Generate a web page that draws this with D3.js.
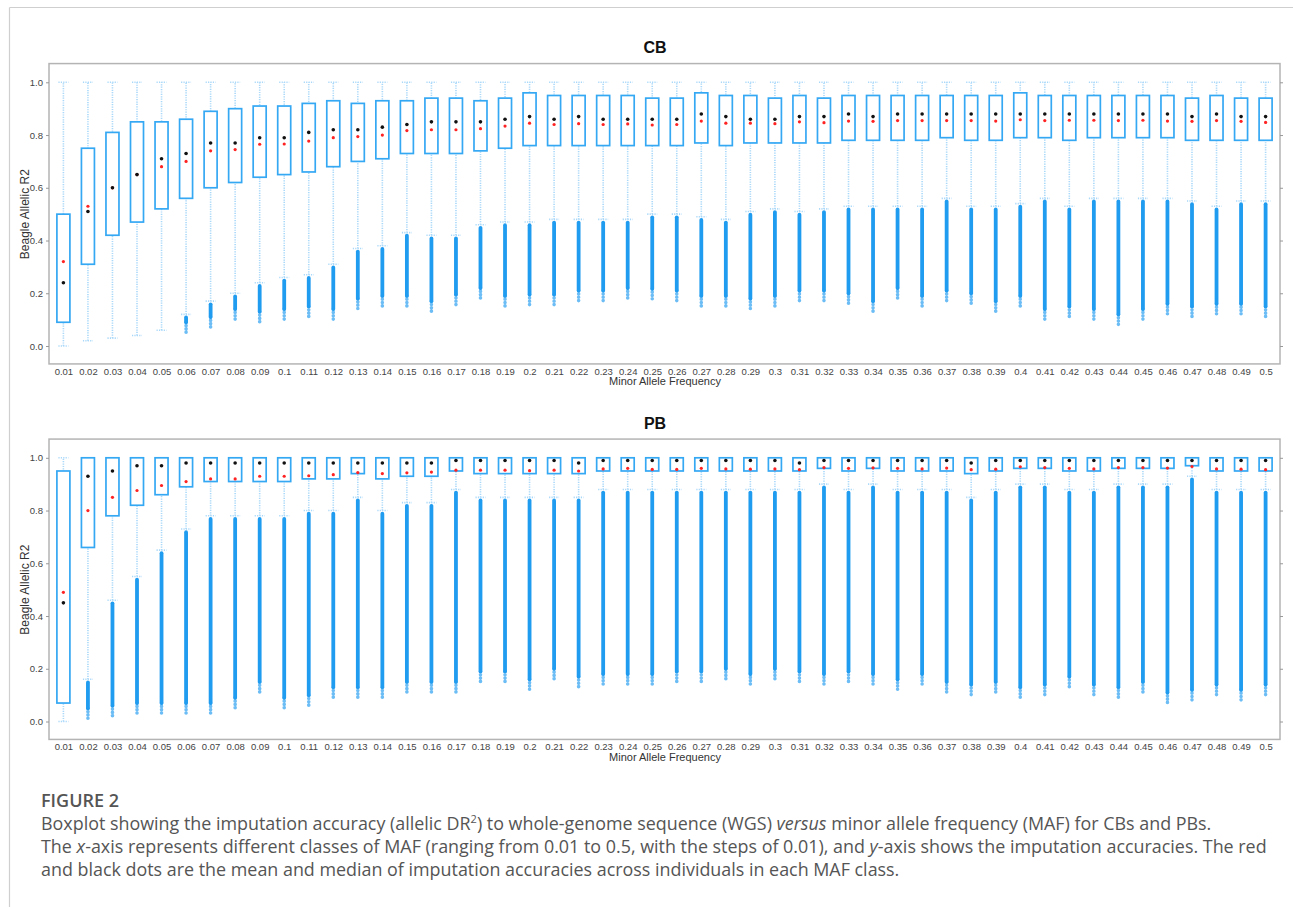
<!DOCTYPE html>
<html>
<head>
<meta charset="utf-8">
<script src="https://cdn.jsdelivr.net/npm/d3@7"></script>
<style>
	body { margin: 0; background: #fff; }
	svg { display: block; }
</style>
</head>
<body>
<div id="chart"></div>
<script>
// MAF classes
var maf = ["0.01", "0.02", "0.03", "0.04", "0.05", "0.06", "0.07", "0.08", "0.09", "0.1",
	"0.11", "0.12", "0.13", "0.14", "0.15", "0.16", "0.17", "0.18", "0.19", "0.2",
	"0.21", "0.22", "0.23", "0.24", "0.25", "0.26", "0.27", "0.28", "0.29", "0.3",
	"0.31", "0.32", "0.33", "0.34", "0.35", "0.36", "0.37", "0.38", "0.39", "0.4",
	"0.41", "0.42", "0.43", "0.44", "0.45", "0.46", "0.47", "0.48", "0.49", "0.5"]

var yTicks = [0, 0.2, 0.4, 0.6, 0.8, 1.0]

// CB panel
var cbUpper = [1, 1, 1, 1, 1, 1, 1, 1, 1, 1, 1, 1, 1, 1, 1, 1, 1, 1, 1, 1, 1, 1, 1, 1, 1,
	1, 1, 1, 1, 1, 1, 1, 1, 1, 1, 1, 1, 1, 1, 1, 1, 1, 1, 1, 1, 1, 1, 1, 1, 1]
var cbQ3 = [0.50, 0.75, 0.81, 0.85, 0.85, 0.86, 0.89, 0.90, 0.91, 0.91,
	0.92, 0.93, 0.92, 0.93, 0.93, 0.94, 0.94, 0.93, 0.94, 0.96,
	0.95, 0.95, 0.95, 0.95, 0.94, 0.94, 0.96, 0.95, 0.95, 0.94,
	0.95, 0.94, 0.95, 0.95, 0.95, 0.95, 0.95, 0.95, 0.95, 0.96,
	0.95, 0.95, 0.95, 0.95, 0.95, 0.95, 0.94, 0.95, 0.94, 0.94]
var cbMedian = [0.24, 0.51, 0.60, 0.65, 0.71, 0.73, 0.77, 0.77, 0.79, 0.79,
	0.81, 0.82, 0.82, 0.83, 0.84, 0.85, 0.85, 0.85, 0.86, 0.87,
	0.86, 0.87, 0.86, 0.86, 0.86, 0.86, 0.88, 0.87, 0.86, 0.86,
	0.87, 0.87, 0.88, 0.87, 0.88, 0.88, 0.88, 0.88, 0.88, 0.88,
	0.88, 0.88, 0.88, 0.88, 0.88, 0.88, 0.87, 0.88, 0.87, 0.87]
var cbMean = [0.32, 0.53, 0.60, 0.65, 0.68, 0.70, 0.74, 0.745, 0.765, 0.766,
	0.777, 0.79, 0.794, 0.80, 0.817, 0.82, 0.82, 0.824, 0.834, 0.845,
	0.84, 0.843, 0.84, 0.842, 0.838, 0.84, 0.853, 0.845, 0.845, 0.843,
	0.85, 0.847, 0.853, 0.852, 0.855, 0.855, 0.855, 0.855, 0.853, 0.858,
	0.855, 0.856, 0.856, 0.855, 0.856, 0.853, 0.852, 0.855, 0.852, 0.848]
var cbQ1 = [0.09, 0.31, 0.42, 0.47, 0.52, 0.56, 0.60, 0.62, 0.64, 0.65,
	0.66, 0.68, 0.70, 0.71, 0.73, 0.73, 0.73, 0.74, 0.75, 0.76,
	0.76, 0.76, 0.76, 0.76, 0.76, 0.76, 0.77, 0.76, 0.77, 0.77,
	0.77, 0.77, 0.78, 0.78, 0.78, 0.78, 0.79, 0.78, 0.78, 0.79,
	0.79, 0.78, 0.79, 0.79, 0.79, 0.79, 0.78, 0.78, 0.78, 0.78]
var cbLower = [0.00, 0.02, 0.03, 0.04, 0.06, 0.12, 0.17, 0.20, 0.24, 0.26,
	0.27, 0.31, 0.37, 0.38, 0.43, 0.42, 0.42, 0.46, 0.47, 0.47,
	0.48, 0.48, 0.48, 0.48, 0.50, 0.50, 0.49, 0.48, 0.51, 0.52,
	0.51, 0.52, 0.53, 0.53, 0.53, 0.53, 0.56, 0.53, 0.53, 0.54,
	0.56, 0.53, 0.56, 0.56, 0.56, 0.56, 0.55, 0.53, 0.55, 0.55]
var cbOutMin = [null, null, null, null, null, 0.05, 0.07, 0.10, 0.09, 0.10,
	0.11, 0.10, 0.14, 0.15, 0.15, 0.13, 0.155, 0.18, 0.15, 0.155,
	0.155, 0.17, 0.17, 0.18, 0.177, 0.17, 0.15, 0.15, 0.14, 0.15,
	0.17, 0.17, 0.16, 0.13, 0.18, 0.15, 0.17, 0.16, 0.13, 0.15,
	0.10, 0.11, 0.10, 0.08, 0.10, 0.12, 0.11, 0.12, 0.12, 0.11]

// PB panel
var pbUpper = [1, 1, 1, 1, 1, 1, 1, 1, 1, 1, 1, 1, 1, 1, 1, 1, 1, 1, 1, 1, 1, 1, 1, 1, 1,
	1, 1, 1, 1, 1, 1, 1, 1, 1, 1, 1, 1, 1, 1, 1, 1, 1, 1, 1, 1, 1, 1, 1, 1, 1]
var pbQ3 = [0.95, 1, 1, 1, 1, 1, 1, 1, 1, 1, 1, 1, 1, 1, 1, 1, 1, 1, 1, 1, 1, 1, 1, 1, 1,
	1, 1, 1, 1, 1, 1, 1, 1, 1, 1, 1, 1, 1, 1, 1, 1, 1, 1, 1, 1, 1, 1, 1, 1, 1]
var pbMedian = [0.45, 0.93, 0.95, 0.97, 0.97, 0.98, 0.98, 0.98, 0.98, 0.98,
	0.98, 0.98, 0.98, 0.98, 0.98, 0.98, 0.99, 0.99, 0.99, 0.99,
	0.99, 0.98, 0.99, 0.99, 0.99, 0.99, 0.99, 0.99, 0.99, 0.99,
	0.98, 0.99, 0.99, 0.99, 0.99, 0.99, 0.99, 0.98, 0.99, 0.99,
	0.99, 0.99, 0.99, 0.99, 0.99, 0.99, 0.99, 0.99, 0.99, 0.99]
var pbMean = [0.49, 0.80, 0.85, 0.876, 0.895, 0.91, 0.92, 0.92, 0.93, 0.93,
	0.932, 0.936, 0.944, 0.94, 0.943, 0.946, 0.953, 0.953, 0.953, 0.951,
	0.953, 0.95, 0.958, 0.96, 0.956, 0.956, 0.96, 0.958, 0.957, 0.958,
	0.955, 0.963, 0.96, 0.962, 0.96, 0.958, 0.961, 0.955, 0.957, 0.966,
	0.963, 0.96, 0.958, 0.963, 0.963, 0.961, 0.967, 0.958, 0.957, 0.955]
var pbQ1 = [0.07, 0.66, 0.78, 0.82, 0.86, 0.89, 0.91, 0.91, 0.91, 0.91,
	0.92, 0.92, 0.94, 0.92, 0.93, 0.93, 0.95, 0.94, 0.94, 0.94,
	0.94, 0.94, 0.95, 0.95, 0.95, 0.95, 0.95, 0.95, 0.95, 0.95,
	0.95, 0.96, 0.95, 0.96, 0.95, 0.95, 0.95, 0.94, 0.95, 0.96,
	0.96, 0.95, 0.95, 0.96, 0.96, 0.96, 0.97, 0.95, 0.95, 0.95]
var pbLower = [0.00, 0.16, 0.46, 0.55, 0.65, 0.73, 0.78, 0.78, 0.78, 0.78,
	0.80, 0.80, 0.85, 0.80, 0.83, 0.83, 0.88, 0.85, 0.85, 0.85,
	0.85, 0.85, 0.88, 0.88, 0.88, 0.88, 0.88, 0.88, 0.88, 0.88,
	0.88, 0.90, 0.88, 0.90, 0.88, 0.88, 0.88, 0.85, 0.88, 0.90,
	0.90, 0.88, 0.88, 0.90, 0.90, 0.90, 0.93, 0.88, 0.88, 0.88]
var pbOutMin = [null, 0.01, 0.02, 0.03, 0.03, 0.03, 0.03, 0.05, 0.11, 0.05,
	0.06, 0.09, 0.09, 0.09, 0.11, 0.11, 0.11, 0.15, 0.15, 0.12,
	0.16, 0.13, 0.14, 0.14, 0.14, 0.15, 0.15, 0.16, 0.14, 0.16,
	0.15, 0.14, 0.15, 0.14, 0.12, 0.14, 0.11, 0.10, 0.11, 0.09,
	0.10, 0.13, 0.10, 0.09, 0.11, 0.07, 0.08, 0.10, 0.08, 0.10]

var panels = [
	{ title: "CB", off: 0, upper: cbUpper, q3: cbQ3, med: cbMedian, mean: cbMean, q1: cbQ1, lower: cbLower, outMin: cbOutMin },
	{ title: "PB", off: 375.5, upper: pbUpper, q3: pbQ3, med: pbMedian, mean: pbMean, q1: pbQ1, lower: pbLower, outMin: pbOutMin }
]

var w = 1293
var h = 907

var boxBlue = "#35a8f4"
var whiskBlue = "#a9d8f9"
var outBlue = "#1f9bef"

var svg = d3.select("#chart")
	.append("svg")
	.attr("width", w)
	.attr("height", h)

// page border (top and left)
svg.append("line")
	.attr("x1", 9.5).attr("x2", w).attr("y1", 7.5).attr("y2", 7.5)
	.attr("stroke", "#cfcfcf").attr("stroke-width", 1.2)
svg.append("line")
	.attr("x1", 9.5).attr("x2", 9.5).attr("y1", 7.5).attr("y2", h)
	.attr("stroke", "#cfcfcf").attr("stroke-width", 1.2)

var x = d3.scalePoint()
	.domain(maf)
	.range([63.4, 1265.6])

var left = 49
var right = 1280
var boxW = 13
var capW = 10

panels.forEach(p => {
	var y = d3.scaleLinear()
		.domain([0, 1])
		.range([346 + p.off, 82.3 + p.off])

	var g = svg.append("g")

	// title
	g.append("text")
		.attr("x", 655)
		.attr("y", 53 + p.off)
		.attr("text-anchor", "middle")
		.style("font-family", "Liberation Sans, Arial, sans-serif")
		.style("font-weight", "bold")
		.style("font-size", "16px")
		.style("fill", "#111")
		.text(p.title)

	// frame
	g.append("rect")
		.attr("x", left)
		.attr("y", y(1.071))
		.attr("width", right - left)
		.attr("height", y(-0.068) - y(1.071))
		.attr("fill", "none")
		.attr("stroke", "#b4b4b4")
		.attr("stroke-width", 1.5)

	// y axes
	var yAxis = d3.axisLeft(y).tickValues(yTicks).tickFormat(d3.format(".1f")).tickSize(3).tickPadding(3)
	var ga = g.append("g")
		.attr("transform", "translate(" + left + ",0)")
		.call(yAxis)
	ga.select(".domain").remove()
	ga.selectAll("line").attr("stroke", "#999")
	ga.selectAll("text")
		.style("font-family", "Liberation Sans, Arial, sans-serif")
		.style("font-size", "9.5px")
		.style("fill", "#444")

	var gr = g.append("g")
		.attr("transform", "translate(" + right + ",0)")
		.call(d3.axisRight(y).tickValues(yTicks).tickFormat("").tickSize(3))
	gr.select(".domain").remove()
	gr.selectAll("line").attr("stroke", "#999")

	// x axis
	var gx = g.append("g")
		.attr("transform", "translate(0," + y(-0.068) + ")")
		.call(d3.axisBottom(x).tickSize(0).tickPadding(4))
	gx.select(".domain").remove()
	gx.selectAll("text")
		.style("font-family", "Liberation Sans, Arial, sans-serif")
		.style("font-size", "9.5px")
		.style("fill", "#444")

	g.append("text")
		.attr("x", 665)
		.attr("y", 385 + p.off)
		.attr("text-anchor", "middle")
		.style("font-family", "Liberation Sans, Arial, sans-serif")
		.style("font-size", "11px")
		.style("fill", "#333")
		.text("Minor Allele Frequency")

	g.append("text")
		.attr("transform", "translate(29," + y(0.5) + ") rotate(-90)")
		.attr("text-anchor", "middle")
		.style("font-family", "Liberation Sans, Arial, sans-serif")
		.style("font-size", "12px")
		.style("fill", "#333")
		.text("Beagle Allelic R2")

	var idx = d3.range(maf.length)

	// whiskers
	var wg = g.append("g")
		.attr("stroke", whiskBlue)
		.attr("stroke-width", 1.6)
		.attr("stroke-dasharray", "1.2 1.2")
		.attr("fill", "none")
	wg.selectAll(".wl")
		.data(idx)
		.enter()
		.append("line")
		.attr("x1", i => x(maf[i]))
		.attr("x2", i => x(maf[i]))
		.attr("y1", i => y(p.lower[i]))
		.attr("y2", i => y(p.upper[i]))
	wg.selectAll(".cu")
		.data(idx)
		.enter()
		.append("line")
		.attr("x1", i => x(maf[i]) - capW / 2)
		.attr("x2", i => x(maf[i]) + capW / 2)
		.attr("y1", i => y(p.upper[i]))
		.attr("y2", i => y(p.upper[i]))
	wg.selectAll(".cl")
		.data(idx)
		.enter()
		.append("line")
		.attr("x1", i => x(maf[i]) - capW / 2)
		.attr("x2", i => x(maf[i]) + capW / 2)
		.attr("y1", i => y(p.lower[i]))
		.attr("y2", i => y(p.lower[i]))

	// outliers
	var withOut = idx.filter(i => p.outMin[i] != null)
	g.selectAll(".outTail")
		.data(withOut)
		.enter()
		.append("line")
		.attr("x1", i => x(maf[i]))
		.attr("x2", i => x(maf[i]))
		.attr("y1", i => y(p.outMin[i] + 0.04))
		.attr("y2", i => y(p.outMin[i]))
		.attr("stroke", "#6cbdf5")
		.attr("stroke-width", 3.6)
		.attr("stroke-linecap", "round")
		.attr("stroke-dasharray", "0.1 3.2")
	g.selectAll(".outCore")
		.data(withOut)
		.enter()
		.append("line")
		.attr("x1", i => x(maf[i]))
		.attr("x2", i => x(maf[i]))
		.attr("y1", i => y(p.lower[i] - 0.012))
		.attr("y2", i => y(p.outMin[i] + 0.04))
		.attr("stroke", outBlue)
		.attr("stroke-width", 3.8)
		.attr("stroke-linecap", "round")

	// boxes
	g.selectAll(".box")
		.data(idx)
		.enter()
		.append("rect")
		.attr("x", i => x(maf[i]) - boxW / 2)
		.attr("y", i => y(p.q3[i]))
		.attr("width", boxW)
		.attr("height", i => y(p.q1[i]) - y(p.q3[i]))
		.attr("fill", "#fff")
		.attr("stroke", boxBlue)
		.attr("stroke-width", 1.7)

	// mean (red) and median (black)
	g.selectAll(".mean")
		.data(idx)
		.enter()
		.append("circle")
		.attr("cx", i => x(maf[i]))
		.attr("cy", i => y(p.mean[i]))
		.attr("r", 1.6)
		.attr("fill", "#f22")
	g.selectAll(".med")
		.data(idx)
		.enter()
		.append("circle")
		.attr("cx", i => x(maf[i]))
		.attr("cy", i => y(p.med[i]))
		.attr("r", 1.8)
		.attr("fill", "#111")
})

// caption
var cap = svg.append("g")
	.style("font-family", "Open Sans, sans-serif")
	.style("fill", "#555")

cap.append("text")
	.attr("x", 41)
	.attr("y", 807)
	.style("font-size", "18px")
	.style("font-weight", 600)
	.text("FIGURE 2")

var l1 = cap.append("text").attr("x", 41).attr("y", 830).style("font-size", "17.9px")
l1.append("tspan").text("Boxplot showing the imputation accuracy (allelic DR")
l1.append("tspan").attr("dy", -7).style("font-size", "11px").text("2")
l1.append("tspan").attr("dy", 7).text(") to whole-genome sequence (WGS) ")
l1.append("tspan").style("font-style", "italic").text("versus")
l1.append("tspan").text(" minor allele frequency (MAF) for CBs and PBs.")

var l2 = cap.append("text").attr("x", 41).attr("y", 853).style("font-size", "17.9px")
l2.append("tspan").text("The ")
l2.append("tspan").style("font-style", "italic").text("x")
l2.append("tspan").text("-axis represents different classes of MAF (ranging from 0.01 to 0.5, with the steps of 0.01), and ")
l2.append("tspan").style("font-style", "italic").text("y")
l2.append("tspan").text("-axis shows the imputation accuracies. The red")

cap.append("text").attr("x", 41).attr("y", 876).style("font-size", "17.9px")
	.text("and black dots are the mean and median of imputation accuracies across individuals in each MAF class.")
</script>
</body>
</html>
